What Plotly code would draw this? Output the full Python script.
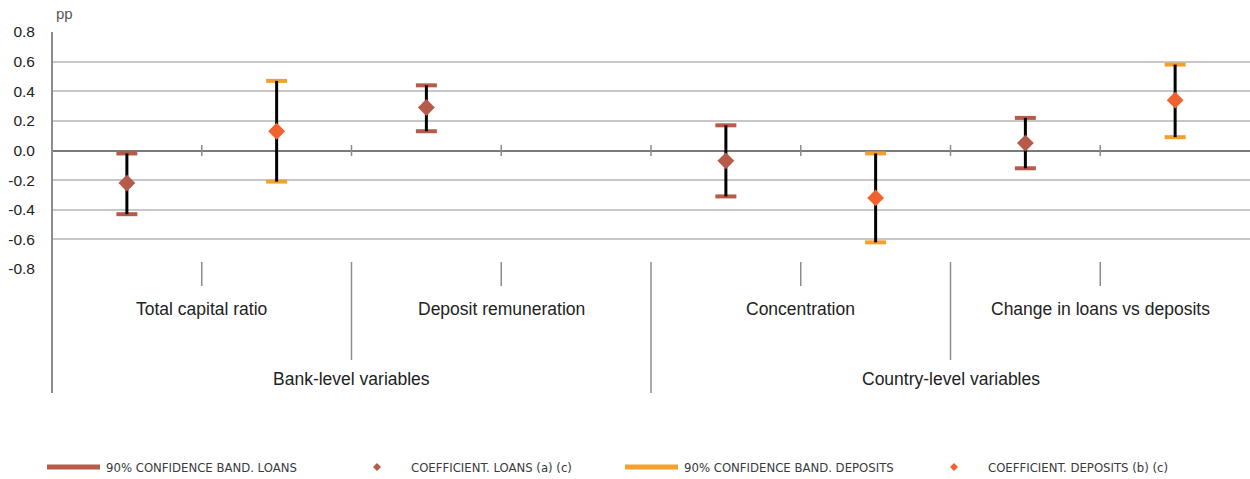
import plotly.graph_objects as go

# ---- data ----
groups = ["Total capital ratio", "Deposit remuneration", "Concentration", "Change in loans vs deposits"]
levels = ["Bank-level variables", "Country-level variables"]
loans_coef = [-0.22, 0.29, -0.07, 0.05]
loans_low = [-0.43, 0.13, -0.31, -0.12]
loans_high = [-0.02, 0.44, 0.17, 0.22]
dep_coef = [0.13, None, -0.32, 0.34]
dep_low = [-0.21, None, -0.62, 0.09]
dep_high = [0.47, None, -0.02, 0.58]
y_ticks = [-0.8, -0.6, -0.4, -0.2, 0.0, 0.2, 0.4, 0.6, 0.8]
legend_labels = ["90% CONFIDENCE BAND. LOANS", "COEFFICIENT. LOANS (a) (c)",
                 "90% CONFIDENCE BAND. DEPOSITS", "COEFFICIENT. DEPOSITS (b) (c)"]

LOAN_BAND = "#B65A4A"
LOAN_DOT = "#B65A4A"
DEP_BAND = "#F3A02E"
DEP_DOT = "#F2622E"

W, H = 1250, 479
ML, MR, MT, MB = 52, 0, 32, 210
PW = W - ML - MR
PH = H - MT - MB

def px_x(px):
    return (px - ML) / PW

def px_y(py):
    return (H - MB - py) / PH

x_loans = [2 * i for i in range(len(groups))]
x_dep = [2 * i + 1 for i in range(len(groups))]

fig = go.Figure()

def add_series(xs, coef, low, high, band_col, dot_col):
    xs2 = [x for x, c in zip(xs, coef) if c is not None]
    c2 = [c for c in coef if c is not None]
    l2 = [v for v in low if v is not None]
    h2 = [v for v in high if v is not None]
    # caps
    fig.add_trace(go.Scatter(
        x=xs2 + xs2, y=l2 + h2, mode="markers",
        marker=dict(symbol="line-ew", size=15, line=dict(width=4, color=band_col)),
        hoverinfo="skip", showlegend=False))
    # black band line
    fig.add_trace(go.Scatter(
        x=xs2, y=c2, mode="markers", marker=dict(size=1, opacity=0),
        error_y=dict(type="data", symmetric=False,
                     array=[h - c for h, c in zip(h2, c2)],
                     arrayminus=[c - l for l, c in zip(l2, c2)],
                     color="black", thickness=3, width=0),
        hoverinfo="skip", showlegend=False))
    # coefficient diamond
    fig.add_trace(go.Scatter(
        x=xs2, y=c2, mode="markers",
        marker=dict(symbol="diamond", size=13, color=dot_col),
        showlegend=False))

add_series(x_loans, loans_coef, loans_low, loans_high, LOAN_BAND, LOAN_DOT)
add_series(x_dep, dep_coef, dep_low, dep_high, DEP_BAND, DEP_DOT)

shapes = []
n_slots = 2 * len(groups)
AX = "#8c8c8c"
# y-axis line extended down through category area
shapes.append(dict(type="line", xref="paper", yref="paper", x0=0, x1=0,
                   y0=1, y1=px_y(393), line=dict(color=AX, width=2)))
# small ticks on zero line
for k in range(1, n_slots):
    shapes.append(dict(type="line", xref="x", yref="y", x0=k - 0.5, x1=k - 0.5,
                       y0=0.037, y1=-0.037, line=dict(color=AX, width=1.5)))
# category divider ticks below the axis
for k in range(1, n_slots):
    b = k - 0.5
    if k % 4 == 0:
        bottom = 393
    elif k % 2 == 0:
        bottom = 360
    else:
        bottom = 286
    shapes.append(dict(type="line", xref="x", yref="paper", x0=b, x1=b,
                       y0=px_y(262), y1=px_y(bottom), line=dict(color=AX, width=1.5)))

annotations = []
for i, g in enumerate(groups):
    annotations.append(dict(x=2 * i + 0.5, y=px_y(309), xref="x", yref="paper",
                            text=g, showarrow=False, xanchor="center", yanchor="middle",
                            font=dict(size=17.5, color="#222222")))
for j, lv in enumerate(levels):
    annotations.append(dict(x=4 * j + 1.5, y=px_y(379), xref="x", yref="paper",
                            text=lv, showarrow=False, xanchor="center", yanchor="middle",
                            font=dict(size=17.5, color="#222222")))
annotations.append(dict(x=px_x(54), y=px_y(13), xref="paper", yref="paper", text="pp",
                        showarrow=False, xanchor="left", yanchor="middle",
                        font=dict(size=15, color="#555555")))

# custom legend
LY = 467
leg_font = dict(size=13, color="#3a3a3a", family="Liberation Sans Narrow, DejaVu Sans Condensed, Arial")
line_items = [(47, 100, 104, LOAN_BAND, legend_labels[0]), (625, 678, 682, DEP_BAND, legend_labels[2])]
for x0, x1, tx, col, lab in line_items:
    shapes.append(dict(type="line", xref="paper", yref="paper", x0=px_x(x0), x1=px_x(x1),
                       y0=px_y(LY), y1=px_y(LY), line=dict(color=col, width=5)))
    annotations.append(dict(x=px_x(tx), y=px_y(LY), xref="paper", yref="paper", text=lab,
                            showarrow=False, xanchor="left", yanchor="middle", font=leg_font))
dot_items = [(377, 409, LOAN_DOT, legend_labels[1]), (954, 986, DEP_DOT, legend_labels[3])]
for cx, tx, col, lab in dot_items:
    r = 4
    path = (f"M {px_x(cx - r)} {px_y(LY)} L {px_x(cx)} {px_y(LY - r)} "
            f"L {px_x(cx + r)} {px_y(LY)} L {px_x(cx)} {px_y(LY + r)} Z")
    shapes.append(dict(type="path", xref="paper", yref="paper", path=path,
                       fillcolor=col, line=dict(width=0)))
    annotations.append(dict(x=px_x(tx), y=px_y(LY), xref="paper", yref="paper", text=lab,
                            showarrow=False, xanchor="left", yanchor="middle", font=leg_font))

fig.update_layout(
    width=W, height=H,
    margin=dict(l=ML, r=MR, t=MT, b=MB, pad=0),
    plot_bgcolor="white", paper_bgcolor="white",
    font=dict(family="Liberation Sans, Arial, sans-serif", color="#222222"),
    showlegend=False,
    shapes=shapes, annotations=annotations,
    xaxis=dict(range=[-0.5, n_slots - 0.5], showticklabels=False, showgrid=False,
               zeroline=False, showline=False, ticks=""),
    yaxis=dict(range=[-0.8, 0.8], tickvals=y_ticks,
               ticktext=[f"{v:.1f}" for v in y_ticks],
               showgrid=True, gridcolor="#c8c8c8", gridwidth=1.5,
               zeroline=True, zerolinecolor="#7a7a7a", zerolinewidth=2,
               showline=False, ticks="", ticklabelstandoff=16,
               tickfont=dict(size=15.5, color="#222222")),
)

fig.write_html("out.html", config={"displayModeBar": False},
               post_script="document.body.style.margin='0px';document.body.style.overflow='hidden';")
